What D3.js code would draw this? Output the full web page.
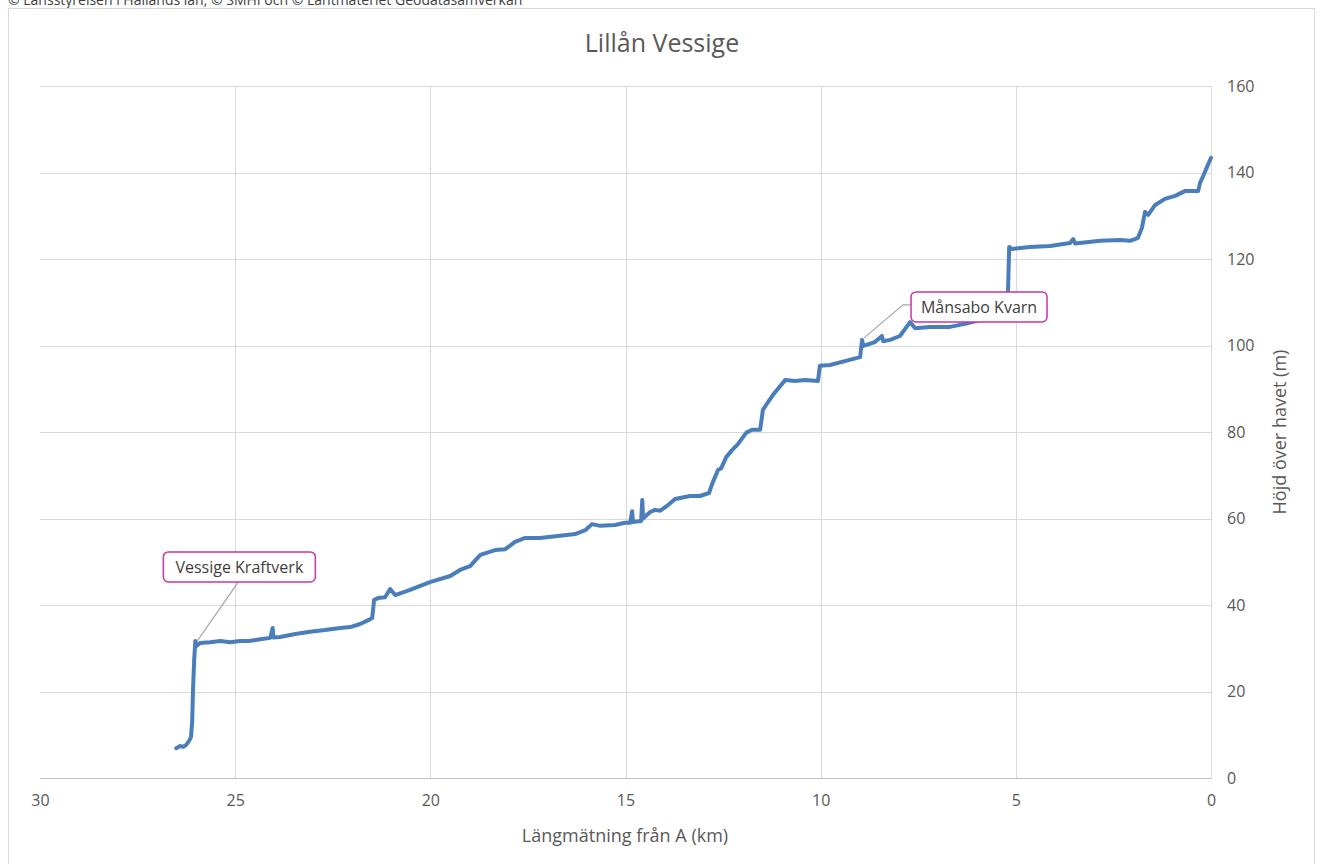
<!DOCTYPE html>
<html>
<head>
<meta charset="utf-8">
<script src="https://cdn.jsdelivr.net/npm/d3@7"></script>
<style>
  body { margin: 0; background: #fff; }
  text { font-family: "Open Sans", "Noto Sans", sans-serif; }
</style>
</head>
<body>
<div id="chart"></div>
<script>
// Data
let chartTitle = "Lillån Vessige";
let sourceNote = "© Länsstyrelsen i Hallands län, © SMHI och © Lantmäteriet Geodatasamverkan";
let xTicks = [30, 25, 20, 15, 10, 5, 0];
let yTicks = [0, 20, 40, 60, 80, 100, 120, 140, 160];

let distKm = [
  26.51, 26.41, 26.33, 26.26, 26.18, 26.13, 26.10, 26.08, 26.05, 26.02, 26.00, 25.90,
  25.64, 25.38, 25.13, 24.87, 24.62, 24.36, 24.10, 24.04, 24.02, 23.85, 23.46, 23.08,
  22.70, 22.31, 22.05, 21.80, 21.59, 21.49, 21.44, 21.34, 21.16, 21.03, 20.90, 20.52,
  20.01, 19.49, 19.24, 18.98, 18.72, 18.34, 18.08, 17.83, 17.57, 17.19, 16.68, 16.29,
  16.03, 15.86, 15.65, 15.27, 15.01, 14.88, 14.83, 14.81, 14.60, 14.57, 14.55, 14.37,
  14.24, 14.11, 13.91, 13.73, 13.35, 13.09, 12.86, 12.78, 12.63, 12.55, 12.42, 12.27,
  12.12, 11.91, 11.76, 11.55, 11.48, 11.35, 11.22, 11.04, 10.91, 10.66, 10.40, 10.07,
  10.02, 9.76, 9.38, 8.99, 8.94, 8.91, 8.61, 8.43, 8.40, 8.22, 7.97, 7.71, 7.58, 7.20,
  6.69, 6.30, 5.92, 5.53, 5.28, 5.20, 5.17, 5.10, 4.64, 4.12, 3.61, 3.53, 3.48, 2.84,
  2.33, 2.07, 1.87, 1.77, 1.69, 1.61, 1.43, 1.18, 0.92, 0.67, 0.33, 0.28, 0.20, 0.10, 0.00
];
let heightM = [
  6.9, 7.4, 7.2, 7.6, 8.6, 9.5, 13.4, 20.3, 27.3, 31.7, 30.5, 31.2,
  31.4, 31.7, 31.4, 31.7, 31.7, 32.1, 32.4, 34.7, 32.5, 32.6, 33.3, 33.8,
  34.2, 34.7, 34.9, 35.6, 36.5, 37.0, 41.2, 41.6, 41.8, 43.7, 42.3, 43.5,
  45.3, 46.7, 48.1, 49.0, 51.6, 52.7, 52.9, 54.6, 55.5, 55.5, 56.0, 56.4,
  57.3, 58.7, 58.3, 58.5, 59.0, 59.0, 61.7, 59.2, 59.4, 64.3, 60.0, 61.5,
  62.0, 61.8, 63.1, 64.5, 65.2, 65.2, 65.9, 68.0, 71.2, 71.6, 74.2, 75.8,
  77.2, 79.8, 80.5, 80.5, 85.1, 86.9, 88.6, 90.6, 92.0, 91.8, 92.0, 91.8,
  95.3, 95.5, 96.4, 97.3, 101.3, 99.9, 100.8, 102.2, 101.0, 101.3, 102.2, 105.4, 104.0, 104.3,
  104.3, 105.0, 105.9, 106.8, 107.3, 112.8, 122.8, 122.3, 122.8, 123.0, 123.7, 124.6, 123.6, 124.2,
  124.4, 124.2, 124.9, 127.2, 130.9, 130.2, 132.5, 133.9, 134.6, 135.7, 135.7, 137.6, 139.2, 141.3, 143.4
];

// annotations: label, anchor point on the profile
let noteLabels = ["Vessige Kraftverk", "Månsabo Kvarn"];
let noteKm = [26.02, 8.94];
let noteM = [31.7, 101.3];

let svgWidth = 1320;
let svgHeight = 864;
let margin = { top: 86, right: 109, bottom: 86, left: 40 };
let width = svgWidth - margin.left - margin.right;
let height = svgHeight - margin.top - margin.bottom;

let svg = d3.select("#chart")
  .append("svg")
  .attr("width", svgWidth)
  .attr("height", svgHeight);

// source note, its upper part lies above the page like in the original screenshot
svg.append("text")
  .attr("x", 8)
  .attr("y", 5)
  .attr("font-size", "14px")
  .attr("fill", "#404040")
  .text(sourceNote);

// chart frame
svg.append("rect")
  .attr("x", 8.5)
  .attr("y", 8.5)
  .attr("width", 1306)
  .attr("height", 880)
  .attr("fill", "none")
  .attr("stroke", "#d9d9d9");

svg.append("text")
  .attr("x", 662)
  .attr("y", 52)
  .attr("text-anchor", "middle")
  .attr("font-size", "25px")
  .attr("fill", "#595959")
  .text(chartTitle);

let chartGroup = svg.append("g")
  .attr("transform", `translate(${margin.left}, ${margin.top})`);

let x = d3.scaleLinear().domain([30, 0]).range([0, width]);
let y = d3.scaleLinear().domain([0, 160]).range([height, 0]);

// gridlines
chartGroup.append("g")
  .selectAll("line")
  .data(yTicks.filter(d => d > 0))
  .enter().append("line")
  .attr("x1", 0)
  .attr("x2", width)
  .attr("y1", d => Math.round(y(d)) + 0.5)
  .attr("y2", d => Math.round(y(d)) + 0.5)
  .attr("stroke", "#d9d9d9");

chartGroup.append("g")
  .selectAll("line")
  .data(xTicks.filter(d => d < 30))
  .enter().append("line")
  .attr("x1", d => Math.round(x(d)) + 0.5)
  .attr("x2", d => Math.round(x(d)) + 0.5)
  .attr("y1", 0)
  .attr("y2", height)
  .attr("stroke", "#d9d9d9");

// x axis
let bottomAxis = d3.axisBottom(x).tickValues(xTicks).tickSize(0).tickPadding(17);
let xAxis = chartGroup.append("g")
  .attr("transform", `translate(0, ${height})`)
  .call(bottomAxis);
xAxis.select(".domain").attr("stroke", "#bfbfbf");
xAxis.selectAll("text")
  .attr("font-size", "16px")
  .attr("fill", "#595959")
  .style("font-family", "'Open Sans', sans-serif");

// y axis on the right
let rightAxis = d3.axisRight(y).tickValues(yTicks).tickSize(0).tickPadding(16);
let yAxis = chartGroup.append("g")
  .attr("transform", `translate(${width}, 0)`)
  .call(rightAxis);
yAxis.select(".domain").remove();
yAxis.selectAll("text")
  .attr("font-size", "16px")
  .attr("fill", "#595959")
  .style("font-family", "'Open Sans', sans-serif");

// axis titles
svg.append("text")
  .attr("x", 625)
  .attr("y", 842)
  .attr("text-anchor", "middle")
  .attr("font-size", "18px")
  .attr("fill", "#595959")
  .text("Längmätning från A (km)");

svg.append("text")
  .attr("transform", "translate(1286, 432) rotate(-90)")
  .attr("text-anchor", "middle")
  .attr("font-size", "18px")
  .attr("fill", "#595959")
  .text("Höjd över havet (m)");

// profile line
let profile = distKm.map((d, i) => [d, heightM[i]]);
let line = d3.line()
  .x(d => x(d[0]))
  .y(d => y(d[1]));

chartGroup.append("path")
  .datum(profile)
  .attr("d", line)
  .attr("fill", "none")
  .attr("stroke", "#4a7ebb")
  .attr("stroke-width", 4)
  .attr("stroke-linejoin", "round")
  .attr("stroke-linecap", "round");

// callouts
let boxOffsets = [[-32, -89], [49, -48]];
let boxWidths = [152, 136];
let boxHeight = 30;

noteLabels.forEach(function(label, i) {
  let ax = x(noteKm[i]);
  let ay = y(noteM[i]);
  let bx = ax + boxOffsets[i][0];
  let by = ay + boxOffsets[i][1];
  let g = chartGroup.append("g");
  if (i === 0) {
    g.append("line")
      .attr("x1", ax + 2).attr("y1", ay)
      .attr("x2", bx + 75).attr("y2", by + boxHeight)
      .attr("stroke", "#a6a6a6").attr("stroke-width", 1.2);
  } else {
    g.append("polyline")
      .attr("points", `${ax + 2},${ay - 2} ${bx - 8},${by + 13} ${bx},${by + 13}`)
      .attr("fill", "none")
      .attr("stroke", "#a6a6a6").attr("stroke-width", 1.2);
  }
  g.append("rect")
    .attr("x", bx).attr("y", by)
    .attr("width", boxWidths[i]).attr("height", boxHeight)
    .attr("rx", 5)
    .attr("fill", "#fff")
    .attr("stroke", "#c8369f")
    .attr("stroke-width", 1.5);
  g.append("text")
    .attr("x", bx + boxWidths[i] / 2)
    .attr("y", by + 21)
    .attr("text-anchor", "middle")
    .attr("font-size", "16px")
    .attr("fill", "#404040")
    .text(label);
});
</script>
</body>
</html>
